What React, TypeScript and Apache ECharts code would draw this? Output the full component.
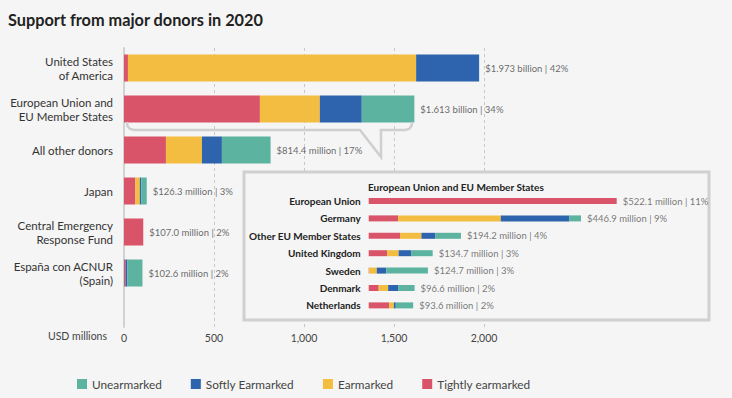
import React, { useEffect, useRef } from "react";
import * as echarts from "echarts";

const categories = [
  "United States\nof America",
  "European Union and\nEU Member States",
  "All other donors",
  "Japan",
  "Central Emergency\nResponse Fund",
  "España con ACNUR\n(Spain)",
];
const tightly = [22, 755, 233, 63, 107, 8];
const earmarked = [1601, 333, 200, 25, 0, 0];
const softly = [350, 233, 111, 8, 0, 11];
const unearmarked = [0, 292, 270.4, 30.3, 0, 83.6];
const mainLabels = [
  "$1.973 billion | 42%",
  "$1.613 billion | 34%",
  "$814.4 million | 17%",
  "$126.3 million | 3%",
  "$107.0 million | 2%",
  "$102.6 million | 2%",
];

const euCategories = [
  "European Union",
  "Germany",
  "Other EU Member States",
  "United Kingdom",
  "Sweden",
  "Denmark",
  "Netherlands",
];
const euTightly = [522.1, 62, 66, 39, 1, 21, 43];
const euEarmarked = [0, 216, 45, 24, 16, 20, 10];
const euSoftly = [0, 144, 29, 27, 20, 21, 4];
const euUnearmarked = [0, 24.9, 54.2, 44.7, 87.7, 34.6, 36.6];
const euLabels = [
  "$522.1 million | 11%",
  "$446.9 million | 9%",
  "$194.2 million | 4%",
  "$134.7 million | 3%",
  "$124.7 million | 3%",
  "$96.6 million | 2%",
  "$93.6 million | 2%",
];

const xTicks = [0, 500, 1000, 1500, 2000];
const legendNames = ["Unearmarked", "Softly Earmarked", "Earmarked", "Tightly earmarked"];

const COLORS: Record<string, string> = {
  "Tightly earmarked": "#d95468",
  Earmarked: "#f3bd41",
  "Softly Earmarked": "#2e64ad",
  Unearmarked: "#5cb39f",
};
const BG = "#f5f5f5";
const FONT = "Lato, 'Open Sans', sans-serif";

export default function App() {
  const ref = useRef<HTMLDivElement>(null);
  useEffect(() => {
    if (!ref.current) return;
    const chart = echarts.init(ref.current, undefined, { renderer: "svg" });
    const mainSets: [string, number[]][] = [
      ["Tightly earmarked", tightly],
      ["Earmarked", earmarked],
      ["Softly Earmarked", softly],
      ["Unearmarked", unearmarked],
    ];
    const euSets: [string, number[]][] = [
      ["Tightly earmarked", euTightly],
      ["Earmarked", euEarmarked],
      ["Softly Earmarked", euSoftly],
      ["Unearmarked", euUnearmarked],
    ];
    const mainTotals = categories.map((_, i) => tightly[i] + earmarked[i] + softly[i] + unearmarked[i]);
    const euTotals = euCategories.map((_, i) => euTightly[i] + euEarmarked[i] + euSoftly[i] + euUnearmarked[i]);

    const series: any[] = [];
    mainSets.forEach(([name, data]) => {
      series.push({
        name,
        type: "bar",
        stack: "main",
        xAxisIndex: 0,
        yAxisIndex: 0,
        barWidth: 27,
        itemStyle: { color: COLORS[name] },
        data,
        z: 3,
      });
    });
    series.push({
      name: "mainTotals",
      type: "scatter",
      xAxisIndex: 0,
      yAxisIndex: 0,
      symbolSize: 0,
      data: mainTotals.map((v, i) => [v, i]),
      label: {
        show: true,
        position: "right",
        distance: 6,
        formatter: (p: any) => mainLabels[p.dataIndex],
        fontSize: 9.5,
        color: "#444",
        fontFamily: FONT,
      },
      z: 4,
    });
    euSets.forEach(([name, data]) => {
      series.push({
        name,
        type: "bar",
        stack: "eu",
        xAxisIndex: 2,
        yAxisIndex: 2,
        barWidth: 6,
        itemStyle: { color: COLORS[name] },
        data,
        z: 10,
      });
    });
    series.push({
      name: "euTotals",
      type: "scatter",
      xAxisIndex: 2,
      yAxisIndex: 2,
      symbolSize: 0,
      data: euTotals.map((v, i) => [v, i]),
      label: {
        show: true,
        position: "right",
        distance: 6,
        formatter: (p: any) => euLabels[p.dataIndex],
        fontSize: 9.5,
        color: "#555",
        fontFamily: FONT,
      },
      z: 11,
    });

    chart.setOption({
      animation: false,
      backgroundColor: BG,
      textStyle: { fontFamily: FONT },
      title: {
        text: "Support from major donors in 2020",
        left: 8,
        top: 11,
        padding: 0,
        textStyle: { fontSize: 16.3, fontWeight: "bold", color: "#222", fontFamily: FONT },
      },
      legend: {
        data: legendNames,
        left: 77,
        top: 378,
        padding: 0,
        icon: "rect",
        itemWidth: 10,
        itemHeight: 10,
        itemGap: 29,
        textStyle: { fontSize: 11.8, color: "#444", fontFamily: FONT },
      },
      grid: [
        { left: 124, top: 47.5, width: 360, height: 246 },
        { left: 124, top: 48, width: 360, height: 279 },
        { left: 368.7, top: 192.3, width: 285, height: 121.8 },
      ],
      xAxis: [
        { type: "value", gridIndex: 0, min: 0, max: 2000, show: false },
        {
          type: "value",
          gridIndex: 1,
          min: xTicks[0],
          max: xTicks[xTicks.length - 1],
          interval: 500,
          axisLine: { show: false },
          axisTick: { show: false },
          splitLine: { show: true, lineStyle: { color: "#c8c8c8", type: [3, 3], width: 1 } },
          axisLabel: {
            margin: 5,
            fontSize: 10.5,
            color: "#444",
            fontFamily: FONT,
            formatter: (v: number) => v.toLocaleString("en-US"),
          },
        },
        { type: "value", gridIndex: 2, min: 0, max: 600, show: false },
      ],
      yAxis: [
        {
          type: "category",
          gridIndex: 0,
          data: categories,
          inverse: true,
          axisLine: { show: false },
          axisTick: { show: false },
          axisLabel: {
            margin: 11,
            fontSize: 11.5,
            lineHeight: 14,
            color: "#333",
            fontFamily: FONT,
          },
        },
        {
          type: "value",
          gridIndex: 1,
          min: 0,
          max: 1,
          axisLine: { show: true, lineStyle: { color: "#d2d2d2", width: 2 } },
          axisTick: { show: false },
          axisLabel: { show: false },
          splitLine: { show: false },
        },
        {
          type: "category",
          gridIndex: 2,
          data: euCategories,
          inverse: true,
          z: 10,
          axisLine: { show: false },
          axisTick: { show: false },
          axisLabel: {
            margin: 8,
            fontSize: 10,
            fontWeight: "bold",
            color: "#222",
            fontFamily: FONT,
          },
        },
      ],
      graphic: [
        {
          type: "rect",
          z: 5,
          shape: { x: 244, y: 172, width: 465, height: 148 },
          style: { fill: BG, stroke: "#d0d0d0", lineWidth: 3 },
        },
        {
          type: "text",
          z: 6,
          x: 368,
          y: 187,
          style: {
            text: "European Union and EU Member States",
            font: `bold 10px ${FONT}`,
            fill: "#222",
            verticalAlign: "middle",
          },
        },
        {
          type: "polyline",
          z: 6,
          shape: {
            points: [
              [127, 122],
              [127.5, 126],
              [130, 129],
              [134, 130],
              [360, 130],
              [381, 157],
              [381, 130],
              [405, 130],
              [409, 129],
              [411.5, 126],
              [412, 122],
            ],
          },
          style: { fill: "none", stroke: "#cfcfcf", lineWidth: 2.5 },
        },
        {
          type: "text",
          z: 6,
          x: 107,
          y: 336,
          style: {
            text: "USD millions",
            font: `10.5px ${FONT}`,
            fill: "#444",
            align: "right",
            verticalAlign: "middle",
          },
        },
      ],
      series,
    });
    return () => chart.dispose();
  }, []);
  return (
    <div
      ref={ref}
      style={{ position: "fixed", left: 0, top: 0, width: 732, height: 398 }}
    />
  );
}
